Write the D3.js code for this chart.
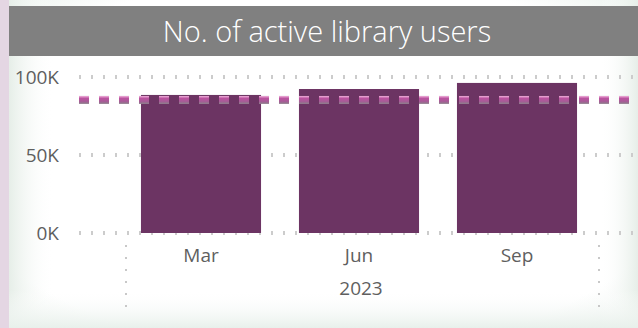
<!DOCTYPE html>
<html>
<head>
<meta charset="utf-8">
<script src="https://cdn.jsdelivr.net/npm/d3@7"></script>
<style>
  html, body { margin: 0; padding: 0; background: #fff; }
  svg { display: block; }
  text { font-family: "Open Sans", "Segoe UI", sans-serif; }
</style>
</head>
<body>
<svg id="chart" width="638" height="328"></svg>
<script>
const title = "No. of active library users";
const months = ["Mar", "Jun", "Sep"];
const year = "2023";
const users = [88500, 92300, 96200];
const targetValue = 85300;
const yTicks = [0, 50000, 100000];

const W = 638, H = 328;
const svg = d3.select("#chart");
const defs = svg.append("defs");

// background glow
const rg = defs.append("radialGradient").attr("id", "bgGlow")
  .attr("cx", "50%").attr("cy", "50%").attr("r", "72%");
rg.append("stop").attr("offset", "0.8").attr("stop-color", "#ffffff");
rg.append("stop").attr("offset", "1").attr("stop-color", "#e9f1ec");

const lg = defs.append("linearGradient").attr("id", "leftGlow").attr("x1", 0).attr("x2", 1).attr("y1", 0).attr("y2", 0);
lg.append("stop").attr("offset", 0).attr("stop-color", "#e6eee8");
lg.append("stop").attr("offset", 1).attr("stop-color", "#ffffff").attr("stop-opacity", 0);

const bg2 = defs.append("linearGradient").attr("id", "bottomGlow").attr("x1", 0).attr("x2", 0).attr("y1", 0).attr("y2", 1);
bg2.append("stop").attr("offset", 0).attr("stop-color", "#ffffff").attr("stop-opacity", 0);
bg2.append("stop").attr("offset", 1).attr("stop-color", "#e8f0eb");

const rgl = defs.append("linearGradient").attr("id", "rightGlow").attr("x1", 0).attr("x2", 1).attr("y1", 0).attr("y2", 0);
rgl.append("stop").attr("offset", 0).attr("stop-color", "#ffffff").attr("stop-opacity", 0);
rgl.append("stop").attr("offset", 1).attr("stop-color", "#e6eee8");

const dg = defs.append("linearGradient").attr("id", "dashGrad").attr("x1", 0).attr("x2", 0).attr("y1", 0).attr("y2", 1);
dg.append("stop").attr("offset", 0).attr("stop-color", "#f0b4dc");
dg.append("stop").attr("offset", 0.3).attr("stop-color", "#bc52a0");
dg.append("stop").attr("offset", 0.7).attr("stop-color", "#a65c96");
dg.append("stop").attr("offset", 1).attr("stop-color", "#888288");

svg.append("rect").attr("x", 0).attr("y", 0).attr("width", W).attr("height", H).attr("fill", "url(#bgGlow)");
svg.append("rect").attr("x", 9).attr("y", 0).attr("width", 45).attr("height", H).attr("fill", "url(#leftGlow)");
svg.append("rect").attr("x", 600).attr("y", 0).attr("width", 38).attr("height", H).attr("fill", "url(#rightGlow)");
svg.append("rect").attr("x", 9).attr("y", 290).attr("width", W).attr("height", 38).attr("fill", "url(#bottomGlow)");
svg.append("rect").attr("x", 0).attr("y", 0).attr("width", 9).attr("height", H).attr("fill", "#e4d6e3");

// title band
svg.append("rect").attr("x", 9).attr("y", 6).attr("width", W - 9).attr("height", 50).attr("fill", "#808080");
svg.append("text").attr("x", 327).attr("y", 42).attr("text-anchor", "middle")
  .attr("fill", "#ffffff").attr("font-size", 29).attr("font-weight", 300).text(title);

// scales
const y = d3.scaleLinear().domain([0, 100000]).range([233, 77]);
const x = d3.scaleBand().domain(months).range([122, 596]).paddingInner(0.24).paddingOuter(0.12);

// gridlines
const gridX0 = 79, gridX1 = 634;
svg.append("g").selectAll("line").data(yTicks).join("line")
  .attr("x1", gridX0).attr("x2", gridX1)
  .attr("y1", d => y(d)).attr("y2", d => y(d))
  .attr("stroke", "#cccccc").attr("stroke-width", 4).attr("stroke-dasharray", "2,10");

// y labels
const yAxis = d3.axisLeft(y).tickValues(yTicks).tickSize(0).tickPadding(0)
  .tickFormat(d => d3.format("d")(d / 1000) + "K");
const ya = svg.append("g").attr("transform", "translate(59,0)").call(yAxis);
ya.select(".domain").remove();
ya.selectAll("text").attr("fill", "#5f5f5f").attr("font-size", 19)
  .style("font-family", "'Open Sans', sans-serif");

// bars
svg.append("g").selectAll("rect").data(users).join("rect")
  .attr("x", (d, i) => x(months[i]))
  .attr("width", x.bandwidth())
  .attr("y", d => y(d))
  .attr("height", d => y(0) - y(d))
  .attr("fill", "#6c3463");

// target dashed line
const pat = defs.append("pattern").attr("id", "dashPattern").attr("patternUnits", "userSpaceOnUse")
  .attr("x", gridX0).attr("y", y(targetValue) - 4).attr("width", 20).attr("height", 8);
pat.append("rect").attr("x", 0).attr("y", 0).attr("width", 10).attr("height", 8).attr("fill", "url(#dashGrad)");
svg.append("rect")
  .attr("x", gridX0).attr("width", gridX1 - gridX0 - 4)
  .attr("y", y(targetValue) - 4).attr("height", 8)
  .attr("fill", "url(#dashPattern)");

// x labels
const xAxis = d3.axisBottom(x).tickSize(0).tickPadding(0);
const xa = svg.append("g").attr("transform", "translate(0,248)").call(xAxis);
xa.select(".domain").remove();
xa.selectAll("text").attr("fill", "#5f5f5f").attr("font-size", 19)
  .style("font-family", "'Open Sans', sans-serif");

const [r0, r1] = x.range();
svg.append("text").attr("x", (r0 + r1) / 2 + 2).attr("y", 295).attr("text-anchor", "middle")
  .attr("fill", "#5f5f5f").attr("font-size", 19).text(year);

// group separators
svg.append("g").selectAll("line").data([r0 + 4, r1 + 3]).join("line")
  .attr("x1", d => d).attr("x2", d => d)
  .attr("y1", 245).attr("y2", 309)
  .attr("stroke", "#c8c8c8").attr("stroke-width", 2).attr("stroke-dasharray", "2,10");
</script>
</body>
</html>
